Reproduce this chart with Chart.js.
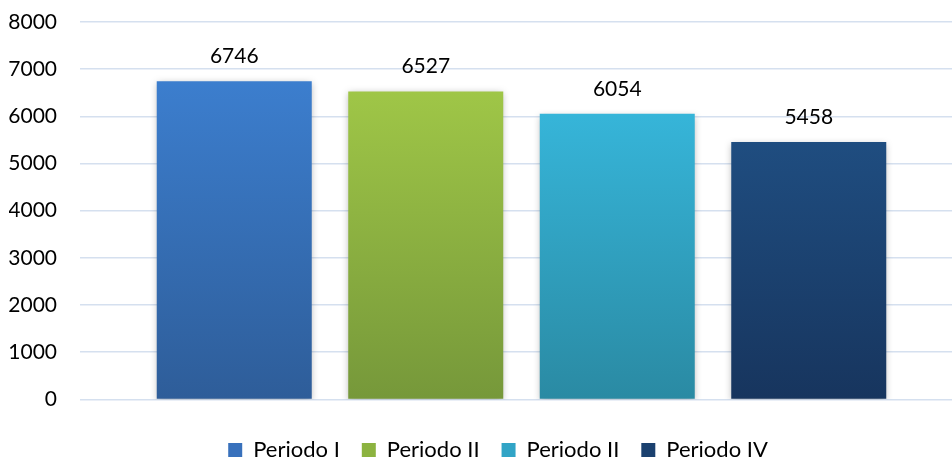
<!DOCTYPE html>
<html><head><meta charset="utf-8">
<script src="https://cdn.jsdelivr.net/npm/chart.js@4"></script>
<style>
html,body{margin:0;padding:0;overflow:hidden;background:#fff;}
#wrap{width:963px;height:471px;position:relative;}
</style></head>
<body><div id="wrap"><canvas id="c"></canvas></div>
<script>
const categories = ["Total"];
const seriesNames = ["Periodo I", "Periodo II", "Periodo II", "Periodo IV"];
const seriesValues = [6746, 6527, 6054, 5458];
const yTicks = [0,1000,2000,3000,4000,5000,6000,7000,8000];
const topColors = ["#3C7ECE", "#9FC647", "#36B5D9", "#1F4D80"];
const bottomColors = ["#2E5D99", "#76983A", "#2A8AA3", "#17355E"];
const legendColors = ["#3871BC", "#8CB340", "#31A4C6", "#1B416F"];

function grad(i){
  return function(ctx){
    const chart = ctx.chart;
    const y = chart.scales && chart.scales.y;
    if(!chart.chartArea || !y) return topColors[i];
    const top = y.getPixelForValue(seriesValues[i]);
    const bot = y.getPixelForValue(0);
    const g = chart.ctx.createLinearGradient(0, top, 0, bot);
    g.addColorStop(0, topColors[i]);
    g.addColorStop(1, bottomColors[i]);
    return g;
  };
}

const datasets = seriesNames.map((n,i)=>({
  label: n,
  data: [seriesValues[i]],
  backgroundColor: grad(i),
  borderWidth: 0,
  barPercentage: 0.8094,
  categoryPercentage: 0.8675
}));

const shadowPlugin = {
  id:'shadow',
  afterLayout(chart){
    if(chart.legend){ chart.legend.left += 24; }
  },
  beforeDatasetsDraw(chart){
    const c = chart.ctx; c.save();
    c.shadowColor='rgba(0,0,0,0.28)'; c.shadowBlur=7; c.shadowOffsetX=0; c.shadowOffsetY=2;
  },
  afterDatasetsDraw(chart){
    chart.ctx.restore();
    const c = chart.ctx;
    c.save();
    c.font = '21px Lato';
    c.fillStyle = '#000';
    c.textAlign='center'; c.textBaseline='middle';
    chart.data.datasets.forEach((d,i)=>{
      const el = chart.getDatasetMeta(i).data[0];
      c.fillText(String(seriesValues[i]), el.x, el.y-25);
    });
    c.restore();
  }
};

new Chart(document.getElementById('c'), {
  type:'bar',
  data:{labels:categories, datasets},
  plugins:[shadowPlugin],
  options:{
    responsive:true, maintainAspectRatio:false, animation:false,
    layout:{padding:{left:9,right:0,top:22,bottom:0}},
    plugins:{
      tooltip:{enabled:false},
      legend:{
        position:'bottom',
        labels:{
          font:{family:'Lato', size:22},
          color:'#000',
          boxWidth:14, boxHeight:14, padding:22,
          generateLabels(chart){
            return seriesNames.map((n,i)=>({text:n, fillStyle:legendColors[i], strokeStyle:legendColors[i], lineWidth:0, datasetIndex:i, hidden:false}));
          }
        }
      }
    },
    scales:{
      x:{
        display:true,
        grid:{display:false, drawTicks:false},
        border:{display:false},
        ticks:{color:'rgba(0,0,0,0)', font:{size:8}, padding:4}
      },
      y:{
        min:0, max:8000,
        afterBuildTicks(s){ s.ticks = yTicks.map(v=>({value:v})); },
        afterFit(s){ s.width = 71; s.paddingTop = 0; s.paddingBottom = 0; },
        border:{display:false},
        grid:{color:'#D5E0EF', lineWidth:1.5, drawTicks:false},
        ticks:{font:{family:'Lato', size:21}, color:'#000', padding:23,
          callback:(v)=>String(v)}
      }
    }
  }
});
</script></body></html>
